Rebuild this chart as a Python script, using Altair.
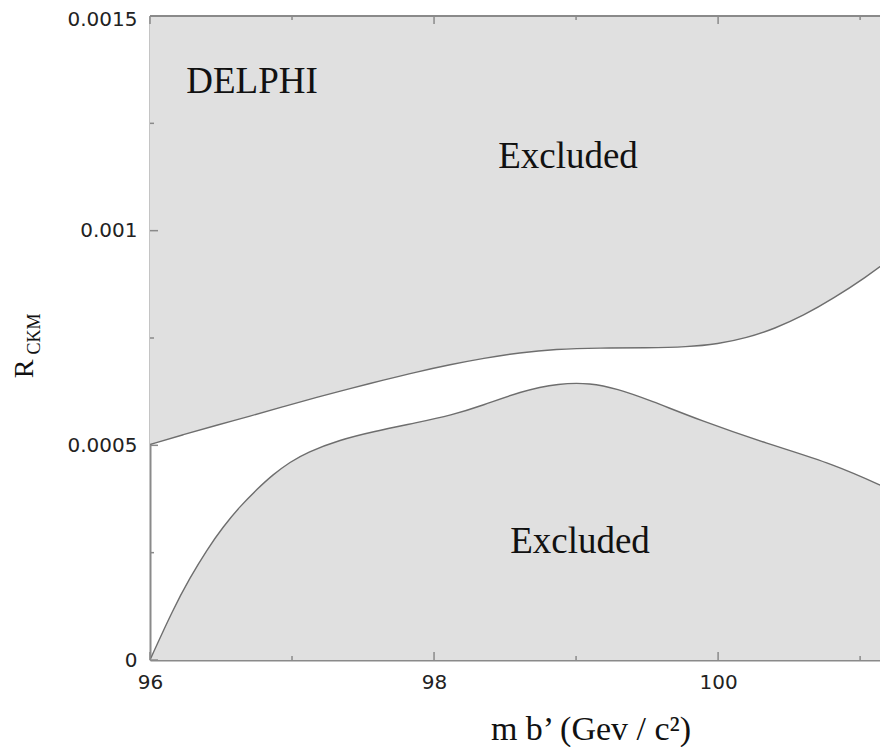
import altair as alt
import pandas as pd

# ---- data ----
upper_x = [96.000, 96.235, 96.470, 96.704, 96.939, 97.174, 97.408, 97.643, 97.878,
           98.113, 98.347, 98.606, 98.850, 99.169, 99.500, 99.780, 100.000, 100.200,
           100.400, 100.600, 100.812, 101.047, 101.197]
upper_y = [0.000502, 0.000525, 0.000547, 0.000568, 0.000590, 0.000612, 0.000632,
           0.000652, 0.000671, 0.000688, 0.000703, 0.000716, 0.000724, 0.000727,
           0.000727, 0.000729, 0.000736, 0.000750, 0.000772, 0.000802, 0.000842,
           0.000893, 0.000930]

lower_x = [96.000, 96.162, 96.282, 96.401, 96.514, 96.634, 96.754, 96.866, 96.986,
           97.106, 97.338, 97.570, 97.880, 98.120, 98.345, 98.600, 98.887, 99.099,
           99.287, 99.521, 99.873, 100.343, 100.812, 101.197]
lower_y = [0.0, 0.000118, 0.000192, 0.000257, 0.000310, 0.000358, 0.000398, 0.000432,
           0.000461, 0.000484, 0.000513, 0.000532, 0.000553, 0.000570, 0.000593,
           0.000625, 0.000645, 0.000645, 0.000632, 0.000605, 0.000558, 0.000504,
           0.000457, 0.000399]

X_MIN, X_MAX = 96.0, 101.14
Y_MIN, Y_MAX = 0.0, 0.0015
x_major = [96, 98, 100]
x_minor = [97, 99, 101]
y_major = [0.0, 0.0005, 0.001, 0.0015]
y_minor = [0.00025, 0.00075, 0.00125]

label_delphi = "DELPHI"
label_excluded = "Excluded"
x_title = "m b\u2019 (Gev / c\u00b2)"
y_title_main = "R"
y_title_sub = "CKM"

W, H = 730, 644
FILL = "#e0e0e0"
CURVE = "#6e6e6e"
AXIS = "#8a8a8a"
SERIF = "Liberation Serif"
INTERP = "basis"

up_df = pd.DataFrame({"x": upper_x, "y": upper_y, "top": [Y_MAX] * len(upper_x)})
lo_df = pd.DataFrame({"x": lower_x, "y": lower_y, "bottom": [Y_MIN] * len(lower_x)})

xscale = alt.Scale(domain=[X_MIN, X_MAX], nice=False, zero=False)
yscale = alt.Scale(domain=[Y_MIN, Y_MAX], nice=False)

xaxis = alt.Axis(values=x_major, format="d", title=None, ticks=False, grid=False,
                 labelFont="DejaVu Sans", labelFontSize=20, labelColor="#222",
                 labelPadding=12, domainColor=AXIS, domainWidth=2, labelFlush=False)
yaxis = alt.Axis(values=y_major, format=".4~f", title=None, ticks=False, grid=False,
                 labelFont="DejaVu Sans", labelFontSize=20, labelColor="#222",
                 labelPadding=13, domainColor=AXIS, domainWidth=2, labelFlush=False,
                 labelOffset={"condition": {"test": f"datum.value >= {Y_MAX}", "value": 3},
                              "value": 0})

X = alt.X("x:Q", scale=xscale, axis=xaxis)
Y = alt.Y("y:Q", scale=yscale, axis=yaxis)

upper_area = alt.Chart(up_df).mark_area(color=FILL, interpolate=INTERP, clip=True).encode(
    x=X, y=Y, y2="top:Q")
lower_area = alt.Chart(lo_df).mark_area(color=FILL, interpolate=INTERP, clip=True).encode(
    x=alt.X("x:Q", scale=xscale), y=alt.Y("y:Q", scale=yscale), y2="bottom:Q")
upper_line = alt.Chart(up_df).mark_line(color=CURVE, strokeWidth=1.4, interpolate=INTERP, clip=True).encode(
    x=alt.X("x:Q", scale=xscale), y=alt.Y("y:Q", scale=yscale))
lower_line = alt.Chart(lo_df).mark_line(color=CURVE, strokeWidth=1.4, interpolate=INTERP, clip=True).encode(
    x=alt.X("x:Q", scale=xscale), y=alt.Y("y:Q", scale=yscale))

def xticks(vals, length):
    d = pd.DataFrame({"t": vals})
    bot = alt.Chart(d).mark_rule(color=AXIS, strokeWidth=1.5).encode(
        x=alt.X("t:Q", scale=xscale), y=alt.value(H), y2=alt.value(H - length))
    top = alt.Chart(d).mark_rule(color=AXIS, strokeWidth=1.5).encode(
        x=alt.X("t:Q", scale=xscale), y=alt.value(0), y2=alt.value(length))
    return bot + top

def yticks(vals, length):
    d = pd.DataFrame({"t": vals})
    return alt.Chart(d).mark_rule(color=AXIS, strokeWidth=1.5).encode(
        y=alt.Y("t:Q", scale=yscale), x=alt.value(0), x2=alt.value(length))

top_border = alt.Chart(pd.DataFrame({"k": [0]})).mark_rule(color=AXIS, strokeWidth=2).encode(
    x=alt.value(0), x2=alt.value(W), y=alt.value(0))

one = pd.DataFrame({"k": [0]})

def txt(text, x, y, size, angle=0, align="center", baseline="alphabetic"):
    kw = dict(text=text, font=SERIF, fontSize=size, color="#111", align=align,
              baseline=baseline)
    if angle:
        kw["angle"] = angle
    return alt.Chart(one).mark_text(**kw).encode(x=alt.value(x), y=alt.value(y))

texts = [
    txt(label_delphi, 102, 77, 37),
    txt(label_excluded, 418, 152, 37),
    txt(label_excluded, 430, 537, 37),
    txt(x_title, 441, 724, 34),
    txt(y_title_main, -117, 353, 28, angle=270),
    txt(y_title_sub, -110, 318, 18, angle=270),
]

chart = alt.layer(
    upper_area, lower_area, upper_line, lower_line,
    xticks(x_major, 8), xticks(x_minor, 4), yticks(y_major, 8), yticks(y_minor, 4),
    top_border, *texts
).properties(
    width=W, height=H,
    autosize=alt.AutoSizeParams(type="none"),
    padding={"left": 142, "top": 8, "right": 0, "bottom": 87},
    background="white",
).configure_view(stroke=None)

chart.save("out.html", embed_options={"renderer": "svg", "actions": False})
